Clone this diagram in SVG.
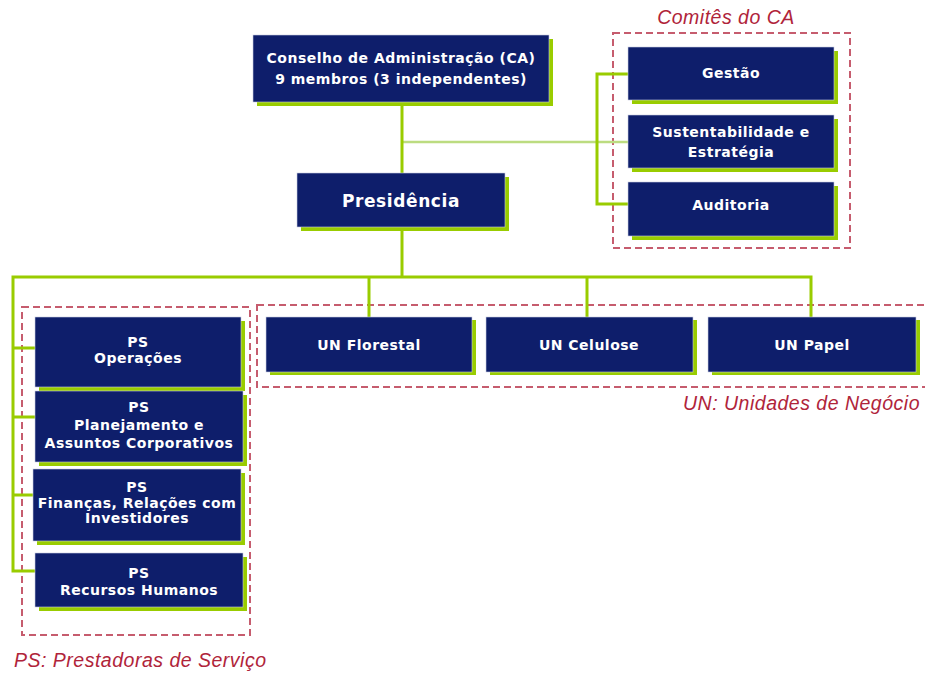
<svg xmlns="http://www.w3.org/2000/svg" width="925" height="673" viewBox="0 0 925 673">
<style>
.box{fill:#0e1e6b;stroke:#c9cde0;stroke-width:0.6}
.sh{fill:#99cc00}
.t{fill:#ffffff;font-family:"DejaVu Sans",Verdana,sans-serif;font-weight:bold;font-size:14px;letter-spacing:0.5px;text-anchor:middle}
.big{font-size:17px;letter-spacing:0.6px}
.ln{stroke:#99cc00;stroke-width:3;fill:none}
.lt{stroke:#bcdc80;stroke-width:2.5;fill:none}
.grp{fill:none;stroke:#b8334a;stroke-width:2;stroke-dasharray:7 4;opacity:0.8}
.cap{fill:#b0243a;font-family:"Liberation Sans",Arial,sans-serif;font-style:italic;font-size:19.5px;letter-spacing:0.5px}
</style>
<rect width="925" height="673" fill="#ffffff"/>
<g id="groups">
<rect class="grp" x="613" y="33" width="237" height="215"/>
<rect class="grp" x="22" y="307" width="228" height="328"/>
<rect class="grp" x="257" y="305" width="680" height="82"/>
<text class="cap" x="726" y="24" text-anchor="middle">Comitês do CA</text>
<text class="cap" x="920" y="410" text-anchor="end">UN: Unidades de Negócio</text>
<text class="cap" x="14" y="667">PS: Prestadoras de Serviço</text>
</g>
<g id="connectors">
<line class="lt" x1="402" y1="142" x2="628" y2="142"/>
<path class="ln" d="M402 102V173"/>
<path class="ln" d="M628 74H597V204H628"/>
<path class="ln" d="M402 227V277"/>
<path class="ln" d="M811 318V277H13V571H35"/>
<path class="ln" d="M369 277V318"/>
<path class="ln" d="M587 277V318"/>
<path class="ln" d="M13 348H35M13 417H35M13 495H34"/>
</g>
<g id="ca">
<rect class="sh" x="257" y="39" width="296" height="67"/>
<rect class="box" x="253" y="35" width="296" height="67"/>
<text class="t" x="401" y="63">Conselho de Administração (CA)</text>
<text class="t" x="401" y="84">9 membros (3 independentes)</text>
</g>
<g id="presidencia">
<rect class="sh" x="301" y="177" width="208" height="54"/>
<rect class="box" x="297" y="173" width="208" height="54"/>
<text class="t big" x="401" y="207">Presidência</text>
</g>
<g id="gestao">
<rect class="sh" x="632" y="51" width="206" height="53"/>
<rect class="box" x="628" y="47" width="206" height="53"/>
<text class="t" x="731" y="78">Gestão</text>
</g>
<g id="sustentabilidade">
<rect class="sh" x="632" y="119" width="206" height="53"/>
<rect class="box" x="628" y="115" width="206" height="53"/>
<text class="t" x="731" y="137">Sustentabilidade e</text>
<text class="t" x="731" y="157">Estratégia</text>
</g>
<g id="auditoria">
<rect class="sh" x="632" y="186" width="206" height="54"/>
<rect class="box" x="628" y="182" width="206" height="54"/>
<text class="t" x="731" y="210">Auditoria</text>
</g>
<g id="un-florestal">
<rect class="sh" x="270" y="320" width="206" height="55"/>
<rect class="box" x="266" y="317" width="206" height="55"/>
<text class="t" x="369" y="350">UN Florestal</text>
</g>
<g id="un-celulose">
<rect class="sh" x="490" y="320" width="207" height="55"/>
<rect class="box" x="486" y="317" width="207" height="55"/>
<text class="t" x="589" y="350">UN Celulose</text>
</g>
<g id="un-papel">
<rect class="sh" x="712" y="320" width="208" height="55"/>
<rect class="box" x="708" y="317" width="208" height="55"/>
<text class="t" x="812" y="350">UN Papel</text>
</g>
<g id="ps-operacoes">
<rect class="sh" x="39" y="321" width="206" height="70"/>
<rect class="box" x="35" y="317" width="206" height="70"/>
<text class="t" x="138" y="347">PS</text>
<text class="t" x="138" y="363">Operações</text>
</g>
<g id="ps-planejamento">
<rect class="sh" x="39" y="395" width="208" height="71"/>
<rect class="box" x="35" y="391" width="208" height="71"/>
<text class="t" x="139" y="412">PS</text>
<text class="t" x="139" y="430">Planejamento e</text>
<text class="t" x="139" y="448">Assuntos Corporativos</text>
</g>
<g id="ps-financas">
<rect class="sh" x="37" y="473" width="208" height="72"/>
<rect class="box" x="33" y="469" width="208" height="72"/>
<text class="t" x="137" y="492">PS</text>
<text class="t" x="137" y="508">Finanças, Relações com</text>
<text class="t" x="137" y="523">Investidores</text>
</g>
<g id="ps-rh">
<rect class="sh" x="39" y="557" width="208" height="54"/>
<rect class="box" x="35" y="553" width="208" height="54"/>
<text class="t" x="139" y="578">PS</text>
<text class="t" x="139" y="595">Recursos Humanos</text>
</g>
</svg>
